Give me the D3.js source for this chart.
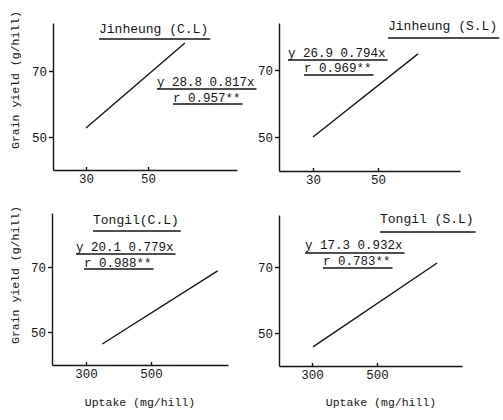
<!DOCTYPE html>
<html>
<head>
<meta charset="utf-8">
<script src="https://cdn.jsdelivr.net/npm/d3@7"></script>
<style>
  body { margin: 0; background: #fff; }
  text { font-family: "Liberation Mono", "DejaVu Sans Mono", monospace; fill: #151515; }
</style>
</head>
<body>
<div id="chart"></div>
<script>
// values
var panelTitles = ["Jinheung (C.L)", "Jinheung (S.L)", "Tongil(C.L)", "Tongil (S.L)"];
var equations = ["y 28.8 0.817x", "y 26.9 0.794x", "y 20.1 0.779x", "y 17.3 0.932x"];
var rValues = ["r 0.957**", "r 0.969**", "r 0.988**", "r 0.783**"];
var xTicksJin = [30, 50];
var xTicksTong = [300, 500];
var yTicks = [50, 70];
var lineJinCL = [[30, 52.7], [61.9, 78.5]];
var lineJinSL = [[30, 50], [62.3, 74.8]];
var lineTongCL = [[350, 46.3], [705, 68.8]];
var lineTongSL = [[303, 45.8], [685, 71.2]];
var yLabel = "Grain yield (g/hill)";
var xLabel = "Uptake (mg/hill)";

var svgWidth = 503;
var svgHeight = 420;

var svg = d3.select("#chart")
  .append("svg")
  .attr("width", svgWidth)
  .attr("height", svgHeight);

// where each panel sits on the page (pixel box + two anchor ticks)
var layout = [
  { left: 53, right: 237, top: 23, bottom: 170, xa: [86, 148], ya: [137, 71],
    title: [99, 33, 39], eq: [157, 86, 89], r: [173, 102, 104] },
  { left: 279, right: 460, top: 23, bottom: 171, xa: [313, 378], ya: [137, 70],
    title: [388, 30, 38], eq: [288, 57, 60], r: [304, 72, 75] },
  { left: 52, right: 228, top: 213, bottom: 365, xa: [86, 151], ya: [332, 267],
    title: [93, 224, 231], eq: [76, 251, 254], r: [84, 267, 269] },
  { left: 279, right: 462, top: 215, bottom: 366, xa: [312, 377], ya: [333, 267],
    title: [380, 223, 232], eq: [305, 249, 253], r: [323, 265, 268] }
];

var panelLines = [lineJinCL, lineJinSL, lineTongCL, lineTongSL];
var panelXTicks = [xTicksJin, xTicksJin, xTicksTong, xTicksTong];

function drawPanel(i) {
  var L = layout[i];
  var ticks = panelXTicks[i];

  // scale set by two ticks, then stretched out to the axis ends
  var x = d3.scaleLinear().domain(ticks).range(L.xa);
  x.domain([x.invert(L.left), x.invert(L.right)]).range([L.left, L.right]);
  var y = d3.scaleLinear().domain(yTicks).range(L.ya);
  y.domain([y.invert(L.bottom), y.invert(L.top)]).range([L.bottom, L.top]);

  var g = svg.append("g");

  var xAxis = g.append("g")
    .attr("transform", "translate(0," + L.bottom + ")")
    .call(d3.axisBottom(x).tickValues(ticks).tickSizeInner(-3).tickSizeOuter(0).tickPadding(4));
  var yAxis = g.append("g")
    .attr("transform", "translate(" + L.left + ",0)")
    .call(d3.axisLeft(y).tickValues(yTicks).tickSizeInner(4).tickSizeOuter(0).tickPadding(2));

  [xAxis, yAxis].forEach(function(a) {
    a.attr("font-family", null).attr("font-size", null);
    a.selectAll("text").style("font-size", "12.5px");
    a.selectAll("path, line").attr("stroke", "#151515").attr("stroke-width", 1.4);
  });

  g.append("path")
    .datum(panelLines[i])
    .attr("fill", "none")
    .attr("stroke", "#151515")
    .attr("stroke-width", 1.4)
    .attr("d", d3.line().x(d => x(d[0])).y(d => y(d[1])));

  // title + regression text, each underlined
  function underlined(str, pos, size) {
    var t = g.append("text")
      .attr("x", pos[0])
      .attr("y", pos[1])
      .style("font-size", size + "px")
      .text(str);
    var w = t.node().getComputedTextLength();
    g.append("line")
      .attr("x1", pos[0]).attr("x2", pos[0] + w + 2)
      .attr("y1", pos[2]).attr("y2", pos[2])
      .attr("stroke", "#151515")
      .attr("stroke-width", 1.6);
  }
  underlined(panelTitles[i], L.title, 13);
  underlined(equations[i], L.eq, 12.5);
  underlined(rValues[i], L.r, 12.5);
}

for (var i = 0; i < 4; i++) drawPanel(i);

// axis titles
[80, 275].forEach(function(cy) {
  svg.append("text")
    .attr("transform", "translate(19," + cy + ") rotate(-90)")
    .attr("text-anchor", "middle")
    .style("font-size", "11.5px")
    .text(yLabel);
});
[140, 381].forEach(function(cx) {
  svg.append("text")
    .attr("x", cx)
    .attr("y", 406)
    .attr("text-anchor", "middle")
    .style("font-size", "11.5px")
    .text(xLabel);
});
</script>
</body>
</html>
